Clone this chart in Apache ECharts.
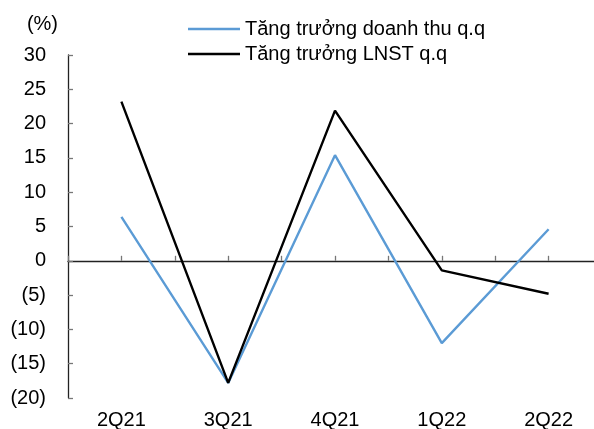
<!DOCTYPE html>
<html>
<head>
<meta charset="utf-8">
<script src="https://cdn.jsdelivr.net/npm/echarts@6/dist/echarts.min.js"></script>
<style>
  html, body { margin: 0; padding: 0; background: #fff; }
  #chart { width: 594px; height: 429px; }
</style>
</head>
<body>
<div id="chart"></div>
<script>
// Quarterly growth, percent
const quarters = ['2Q21', '3Q21', '4Q21', '1Q22', '2Q22'];
const revenueGrowth = [6.4, -17.8, 15.4, -12.0, 4.6];
const profitGrowth = [23.2, -17.8, 21.9, -1.4, -4.8];
const seriesNames = ['Tăng trưởng doanh thu q.q', 'Tăng trưởng LNST q.q'];

const FONT = 'Liberation Sans, Arial, sans-serif';
const FS = 20;

// Negative numbers shown in parentheses
function fmtPct(v) {
  return v < 0 ? '(' + Math.abs(v) + ')' : String(v);
}

const chart = echarts.init(document.getElementById('chart'), null, { renderer: 'canvas' });

chart.setOption({
  animation: false,
  textStyle: { fontFamily: FONT },
  grid: { left: 68, width: 534, top: 55, bottom: 31, containLabel: false, outerBoundsMode: 'none' },
  legend: {
    orient: 'vertical',
    left: 188,
    top: 19,
    padding: 0,
    icon: 'rect',
    itemWidth: 52,
    itemHeight: 2.4,
    itemGap: 5,
    textStyle: { fontFamily: FONT, fontSize: FS, color: '#000', lineHeight: 20 },
    data: seriesNames
  },
  xAxis: [
    {
      // category labels along the bottom edge
      type: 'category',
      data: quarters,
      boundaryGap: true,
      position: 'bottom',
      axisLine: { show: false, onZero: false },
      axisTick: { show: false },
      axisLabel: { fontFamily: FONT, fontSize: FS, color: '#000', margin: 12 }
    },
    {
      // zero line with ticks on category boundaries
      type: 'category',
      data: quarters,
      boundaryGap: true,
      position: 'bottom',
      axisLine: { show: true, onZero: true, onZeroAxisIndex: 0, lineStyle: { color: '#222', width: 1.3 } },
      axisTick: { show: true, inside: true, length: 5, lineStyle: { color: '#777', width: 1.3 } },
      axisLabel: { show: false }
    },
    {
      // ticks at category centres
      type: 'category',
      data: quarters,
      boundaryGap: true,
      position: 'bottom',
      axisLine: { show: true, onZero: true, onZeroAxisIndex: 0, lineStyle: { opacity: 0 } },
      axisTick: { show: true, inside: true, alignWithLabel: true, length: 5, lineStyle: { color: '#777', width: 1.3 } },
      axisLabel: { show: false }
    }
  ],
  yAxis: {
    type: 'value',
    min: -20,
    max: 30,
    interval: 5,
    name: '(%)',
    nameLocation: 'end',
    nameGap: 31,
    nameTextStyle: { fontFamily: FONT, fontSize: FS, color: '#000', align: 'right', verticalAlign: 'middle', padding: [0, 10, 0, 0] },
    splitLine: { show: false },
    axisLine: { show: true, lineStyle: { color: '#222', width: 1.3 } },
    axisTick: { show: true, inside: true, length: 5, lineStyle: { color: '#777', width: 1.3 } },
    axisLabel: { fontFamily: FONT, fontSize: FS, color: '#000', margin: 22, formatter: fmtPct }
  },
  series: [
    {
      name: seriesNames[0],
      type: 'line',
      xAxisIndex: 0,
      data: revenueGrowth,
      symbol: 'none',
      lineStyle: { color: '#5B9BD5', width: 2.4 },
      itemStyle: { color: '#5B9BD5' }
    },
    {
      name: seriesNames[1],
      type: 'line',
      xAxisIndex: 0,
      data: profitGrowth,
      symbol: 'none',
      lineStyle: { color: '#000', width: 2.4 },
      itemStyle: { color: '#000' }
    }
  ]
});
</script>
</body>
</html>
